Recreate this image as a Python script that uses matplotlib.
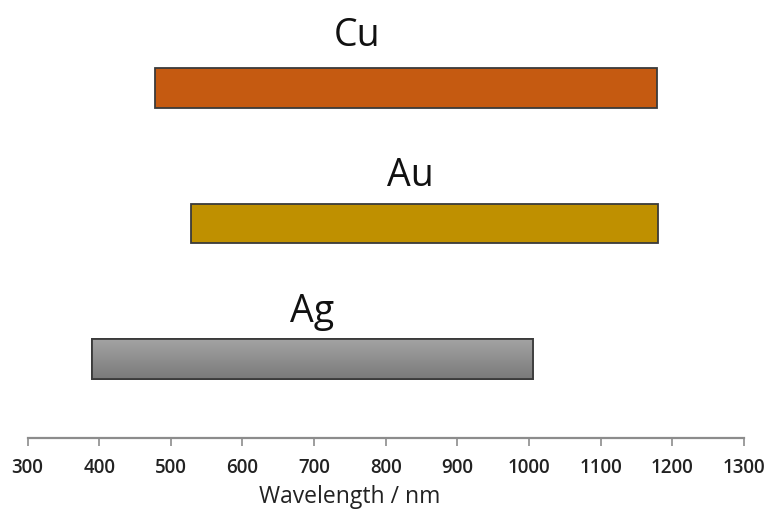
import matplotlib
matplotlib.use("Agg")
import matplotlib.pyplot as plt
import numpy as np
from matplotlib.colors import LinearSegmentedColormap

# ---- data ----
metals = ["Ag", "Au", "Cu"]
start_nm = [390, 528, 478]
end_nm = [1006, 1180, 1178]
bar_colors = ["#8E8E8E", "#BF9000", "#C55A11"]
tick_values = [300, 400, 500, 600, 700, 800, 900, 1000, 1100, 1200, 1300]
x_label = "Wavelength / nm"

plt.rcParams['font.family'] = ['Open Sans', 'DejaVu Sans']

fig = plt.figure(figsize=(7.64, 5.12), dpi=100)
ax = fig.add_axes([27.5 / 764, (512 - 438) / 512, 716.5 / 764, 438 / 512])

ypos = np.arange(len(metals))
widths = [e - s for s, e in zip(start_nm, end_nm)]
bars = ax.barh(ypos, widths, left=start_nm, height=0.29, color=bar_colors,
               edgecolor="#3A3A3A", linewidth=1.3, zorder=3)

# gradient for silver bar
ag = bars[0]
grad = np.linspace(0, 1, 100).reshape(-1, 1)
cmap = LinearSegmentedColormap.from_list("ag", ["#7A7A7A", "#A3A3A3"])
x0, y0 = ag.get_x(), ag.get_y()
im = ax.imshow(grad, cmap=cmap, aspect="auto", origin="lower",
               extent=[x0, x0 + ag.get_width(), y0, y0 + ag.get_height()], zorder=3.5)
im.set_clip_path(ag)
ax.barh([ypos[0]], [widths[0]], left=[start_nm[0]], height=0.29, color="none",
        edgecolor="#3A3A3A", linewidth=1.3, zorder=4)

label_x = [697, 834, 760]
label_dy = [0.273, 0.28, 0.31]
for i, name in enumerate(metals):
    ax.text(label_x[i], ypos[i] + label_dy[i], name, ha="center", va="baseline",
            fontsize=27, color="#111111", zorder=5)

ax.set_xlim(300, 1300)
ax.set_ylim(-0.583, 2.649)
ax.set_xticks(tick_values)
ax.set_xticklabels([str(v) for v in tick_values])
ax.tick_params(axis="x", direction="out", length=6, width=1.2, color="#8C8C8C",
               pad=8.5, labelsize=13.5, labelcolor="#222222")
for lab in ax.get_xticklabels():
    lab.set_fontweight("semibold")
ax.set_yticks([])
for s in ["top", "right", "left"]:
    ax.spines[s].set_visible(False)
ax.spines["bottom"].set_color("#8C8C8C")
ax.spines["bottom"].set_linewidth(1.6)

fig.text(350 / 764, 1 - 497 / 512, x_label, ha="center", va="center",
         fontsize=16.5, color="#222222")

fig.savefig("out.png", dpi=100)
